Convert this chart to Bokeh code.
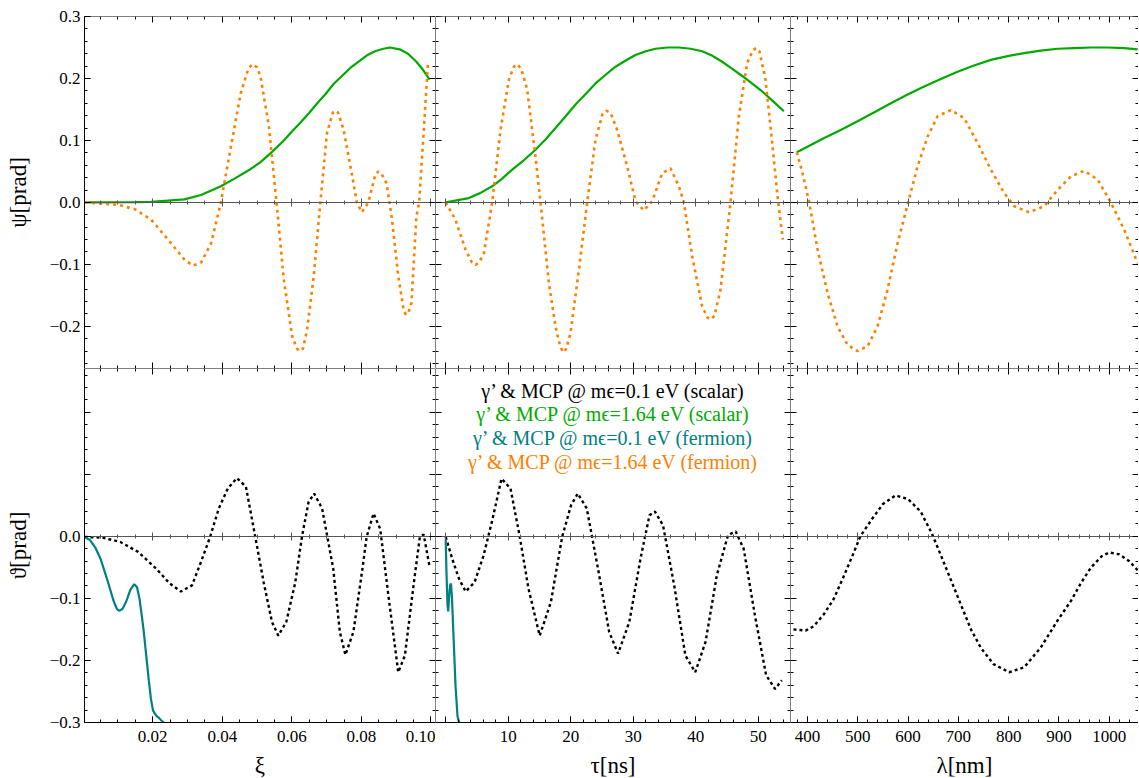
from bokeh.plotting import figure
from bokeh.layouts import gridplot
from bokeh.models import LinearAxis, FixedTicker, Range1d, Label
from bokeh.embed import file_html
from bokeh.resources import INLINE

# ---------------- data ----------------
# top row: psi [prad]
xi_g = [0.0006, 0.0149, 0.0196, 0.0291, 0.0339, 0.0396, 0.0434, 0.0482, 0.0510, 0.0544,
        0.0577, 0.0601, 0.0625, 0.0649, 0.0673, 0.0697, 0.0720, 0.0744, 0.0768, 0.0792,
        0.0815, 0.0839, 0.0863, 0.0882, 0.0910, 0.0934, 0.0958, 0.0977, 0.0996]
psi_g_xi = [0.0, 0.0005, 0.001, 0.005, 0.012, 0.026, 0.038, 0.054, 0.065, 0.082,
            0.100, 0.115, 0.129, 0.144, 0.160, 0.175, 0.191, 0.204, 0.217, 0.227,
            0.237, 0.244, 0.248, 0.250, 0.247, 0.240, 0.227, 0.214, 0.198]

xi_o = [0.0006, 0.0101, 0.0149, 0.0196, 0.0244, 0.0291, 0.0315, 0.0339, 0.0368, 0.0396,
        0.0425, 0.0453, 0.0475, 0.0487, 0.0500, 0.0510, 0.0534, 0.0556, 0.0577, 0.0601,
        0.0615, 0.0623, 0.0632, 0.0644, 0.0663, 0.0682, 0.0701, 0.0718, 0.0725, 0.0733,
        0.0749, 0.0772, 0.0787, 0.0801, 0.0820, 0.0840, 0.0849, 0.0858, 0.0872, 0.0887,
        0.0906, 0.0922, 0.0928, 0.0935, 0.0944, 0.0958, 0.0966, 0.0977, 0.0991]
psi_o_xi = [0.0, -0.004, -0.011, -0.028, -0.060, -0.092, -0.102, -0.097, -0.066, 0.0,
            0.090, 0.176, 0.216, 0.223, 0.218, 0.203, 0.123, 0.0, -0.125, -0.216,
            -0.236, -0.240, -0.236, -0.205, -0.119, 0.0, 0.112, 0.145, 0.148, 0.145,
            0.117, 0.047, 0.0, -0.016, 0.0, 0.045, 0.050, 0.046, 0.031, -0.023,
            -0.119, -0.175, -0.181, -0.178, -0.162, -0.023, 0.0, 0.096, 0.222]

tau_g = [0.0, 3.70, 5.50, 7.44, 9.00, 10.64, 12.50, 14.37, 16.00, 17.57,
         19.20, 20.77, 22.40, 23.97, 25.60, 27.17, 28.80, 30.37, 32.00, 33.57,
         35.50, 37.31, 39.20, 41.04, 42.60, 44.24, 45.80, 47.44, 49.00, 50.64,
         52.40, 54.11]
psi_g_tau = [0.0, 0.007, 0.015, 0.026, 0.038, 0.053, 0.068, 0.085, 0.102, 0.120,
             0.139, 0.158, 0.175, 0.192, 0.206, 0.219, 0.229, 0.238, 0.244, 0.248,
             0.250, 0.250, 0.248, 0.244, 0.237, 0.227, 0.216, 0.204, 0.192, 0.179,
             0.163, 0.147]

tau_o = [0.0, 1.57, 3.17, 4.20, 4.77, 5.40, 6.11, 7.44, 8.77, 10.11,
         10.90, 11.44, 12.10, 13.04, 14.37, 15.17, 16.51, 17.57, 18.30, 18.80,
         19.30, 19.97, 21.31, 22.64, 23.97, 25.10, 25.73, 26.40, 27.44, 29.04,
         30.37, 31.71, 33.04, 34.64, 35.97, 37.31, 38.11, 39.44, 41.04, 41.90,
         42.43, 43.00, 43.97, 45.57, 46.91, 48.24, 49.20, 49.68, 50.20, 51.17,
         52.24, 53.20, 53.95]
psi_o_tau = [0.0, -0.028, -0.076, -0.097, -0.101, -0.096, -0.082, 0.0, 0.117, 0.198,
             0.219, 0.223, 0.215, 0.182, 0.074, 0.0, -0.130, -0.200, -0.232, -0.242,
             -0.236, -0.211, -0.109, 0.0, 0.101, 0.143, 0.148, 0.144, 0.117, 0.058,
             0.002, -0.013, 0.002, 0.047, 0.055, 0.026, 0.0, -0.087, -0.168, -0.186,
             -0.189, -0.183, -0.141, 0.0, 0.139, 0.225, 0.246, 0.249, 0.244, 0.198,
             0.096, 0.0, -0.060]

lam_g = [378.7, 433.2, 466.0, 499.5, 532.0, 565.7, 599.0, 632.0, 665.0, 698.4,
         731.0, 764.6, 798.0, 830.9, 864.0, 897.3, 930.0, 963.6, 997.0, 1029.8, 1056.5]
psi_g_lam = [0.081, 0.104, 0.117, 0.131, 0.145, 0.160, 0.174, 0.187, 0.199, 0.211,
             0.221, 0.230, 0.236, 0.241, 0.245, 0.248, 0.249, 0.250, 0.250, 0.249, 0.247]

lam_o = [378.7, 390.1, 403.3, 419.9, 439.8, 459.7, 479.6, 499.5, 519.4, 539.3,
         559.1, 579.0, 600.1, 618.8, 638.7, 658.6, 685.1, 711.5, 738.2, 764.6,
         791.1, 811.0, 840.8, 870.7, 897.3, 923.8, 950.2, 976.9, 1003.3, 1029.8, 1056.5]
psi_o_lam = [0.081, 0.047, 0.0, -0.076, -0.146, -0.200, -0.230, -0.240, -0.232, -0.200,
             -0.141, -0.066, 0.0, 0.058, 0.106, 0.139, 0.149, 0.136, 0.096, 0.053,
             0.015, -0.006, -0.016, -0.006, 0.020, 0.042, 0.051, 0.037, 0.0, -0.044, -0.098]

# bottom row: theta [prad]
xi_k = [0.0004, 0.0055, 0.0107, 0.0158, 0.0210, 0.0249, 0.0281, 0.0313, 0.0339, 0.0365,
        0.0390, 0.0416, 0.0442, 0.0468, 0.0494, 0.0519, 0.0543, 0.0561, 0.0584, 0.0610,
        0.0629, 0.0648, 0.0664, 0.0687, 0.0719, 0.0738, 0.0754, 0.0777, 0.0803, 0.0815,
        0.0835, 0.0854, 0.0880, 0.0906, 0.0925, 0.0951, 0.0968, 0.0979, 0.0996]
theta_k_xi = [-0.001, -0.002, -0.009, -0.025, -0.052, -0.076, -0.089, -0.079, -0.041, -0.001,
              0.045, 0.077, 0.094, 0.080, 0.002, -0.074, -0.138, -0.160, -0.138, -0.074,
              -0.001, 0.055, 0.069, 0.045, -0.052, -0.154, -0.191, -0.154, -0.052, -0.001,
              0.037, 0.012, -0.106, -0.219, -0.192, -0.074, -0.001, 0.003, -0.049]

xi_t = [0.0004, 0.0020, 0.0035, 0.0050, 0.0070, 0.0087, 0.0097, 0.0104, 0.0113, 0.0124,
        0.0136, 0.0147, 0.0155, 0.0162, 0.0168, 0.0174, 0.0182, 0.0189, 0.0195, 0.0201,
        0.0210, 0.0217, 0.0225, 0.0232]
theta_t_xi = [-0.001, -0.006, -0.018, -0.036, -0.071, -0.103, -0.117, -0.120, -0.117, -0.105,
              -0.086, -0.077, -0.082, -0.100, -0.125, -0.152, -0.195, -0.233, -0.262, -0.281,
              -0.289, -0.292, -0.297, -0.300]

tau_k = [0.0, 1.04, 2.11, 3.20, 4.62, 6.06, 7.50, 8.93, 10.37, 11.81,
         13.24, 15.04, 16.83, 18.63, 20.05, 21.14, 22.57, 24.37, 26.16, 27.58,
         29.38, 31.17, 32.61, 33.47, 34.77, 36.56, 38.35, 39.93, 41.58, 43.38,
         45.17, 46.39, 47.68, 49.47, 51.27, 52.70, 53.78]
theta_k_tau = [-0.001, -0.036, -0.068, -0.089, -0.074, -0.031, 0.028, 0.093, 0.077, 0.002,
               -0.084, -0.160, -0.106, -0.001, 0.050, 0.069, 0.045, -0.052, -0.154, -0.189,
               -0.138, -0.036, 0.034, 0.040, 0.018, -0.079, -0.192, -0.219, -0.170, -0.063,
               0.002, 0.008, -0.020, -0.127, -0.224, -0.246, -0.232]

tau_t = [0.0, 0.13, 0.29, 0.40, 0.53, 0.69, 0.85, 1.01, 1.25, 1.57, 1.89, 2.16]
theta_t_tau = [-0.005, -0.060, -0.110, -0.121, -0.100, -0.080, -0.076, -0.100, -0.160, -0.240,
               -0.290, -0.300]

lam_k = [372, 385, 396, 412, 432, 452, 470, 490, 505, 530, 550, 575, 600, 625, 647, 665,
         685, 705, 725, 745, 770, 801, 831, 864, 897, 924, 944, 964, 985, 1000, 1020, 1040, 1057]
theta_k_lam = [-0.150, -0.151, -0.152, -0.145, -0.126, -0.101, -0.068, -0.030, 0.000, 0.030,
               0.052, 0.066, 0.060, 0.040, 0.005, -0.030, -0.070, -0.110, -0.150, -0.180,
               -0.206, -0.219, -0.211, -0.179, -0.136, -0.104, -0.075, -0.050, -0.032, -0.026,
               -0.029, -0.040, -0.055]

legend_texts = ["γ’ & MCP @ mϵ=0.1 eV (scalar)",
                "γ’ & MCP @ mϵ=1.64 eV (scalar)",
                "γ’ & MCP @ mϵ=0.1 eV (fermion)",
                "γ’ & MCP @ mϵ=1.64 eV (fermion)"]

# tick labels
xi_ticks = [0.02, 0.04, 0.06, 0.08, 0.1]
xi_labels = ["0.02", "0.04", "0.06", "0.08", "0.10"]
tau_ticks = [10, 20, 30, 40, 50]
tau_labels = ["10", "20", "30", "40", "50"]
lam_ticks = [400, 500, 600, 700, 800, 900, 1000]
lam_labels = ["400", "500", "600", "700", "800", "900", "1000"]
psi_ticks = [-0.2, -0.1, 0.0, 0.1, 0.2, 0.3]
psi_labels = ["\u22120.2", "\u22120.1", "0.0", "0.1", "0.2", "0.3"]
theta_ticks = [-0.3, -0.2, -0.1, 0.0]
theta_labels = ["\u22120.3", "\u22120.2", "\u22120.1", "0.0"]

# ---------------- styling ----------------
GREEN = "#00aa00"
ORANGE = "#ff8000"
TEAL = "#008080"
BLACK = "#000000"
FONT = "Liberation Serif"

# tick mark positions (major-length and minor-length)
XMAJ = {"xi": [0.02, 0.04, 0.06, 0.08, 0.1], "tau": [0, 10, 20, 30, 40, 50],
        "lam": [400, 500, 600, 700, 800, 900, 1000]}
XMIN = {"xi": [round(0.005 * i, 4) for i in range(0, 21)],
        "tau": list(range(0, 56, 2)),
        "lam": list(range(380, 1060, 20))}
YMAJ_TOP = [-0.2, -0.1, 0.0, 0.1, 0.2, 0.3]
YMIN_TOP = [round(-0.26 + 0.02 * i, 3) for i in range(0, 29)]
YMAJ_BOT = [-0.3, -0.2, -0.1, 0.0, 0.1, 0.2]
YMIN_BOT = [round(-0.3 + 0.02 * i, 3) for i in range(0, 29)]

XR = {"xi": (0.0004, 0.1013), "tau": (-1.63, 55.17), "lam": (366.1, 1058.3)}
FW = {"xi": 351, "tau": 355, "lam": 348}
YR_TOP = (-0.268, 0.300)
YR_BOT = (-0.300, 0.2705)


def tick_axis(p, side, loc, positions, t_in, t_out, color, draw_line):
    """An axis drawn at a fixed location carrying only tick marks (no labels)."""
    ax = LinearAxis(ticker=FixedTicker(ticks=[], minor_ticks=positions), fixed_location=loc)
    ax.minor_tick_in = t_in
    ax.minor_tick_out = t_out
    ax.minor_tick_line_color = color
    ax.minor_tick_line_width = 1
    ax.major_tick_line_color = None
    ax.axis_line_color = color if draw_line else None
    ax.axis_line_width = 1
    ax.major_label_standoff = 0
    p.add_layout(ax, side)


def label_axis(p, side, ticks, labels, title, label_standoff, title_standoff):
    ax = LinearAxis(ticker=FixedTicker(ticks=ticks, minor_ticks=[]))
    ax.axis_line_color = "black"
    ax.major_tick_line_color = "black"
    ax.major_tick_in = 6
    ax.major_tick_out = 0
    ax.minor_tick_line_color = None
    ax.major_label_overrides = {t: l for t, l in zip(ticks, labels)}
    ax.major_label_text_font = FONT
    ax.major_label_text_font_size = "17px"
    ax.major_label_text_color = "black"
    ax.major_label_standoff = label_standoff
    ax.axis_label = title
    ax.axis_label_text_font = FONT
    ax.axis_label_text_font_size = "23px"
    ax.axis_label_text_font_style = "normal"
    ax.axis_label_text_color = "black"
    ax.axis_label_standoff = title_standoff
    p.add_layout(ax, side)


def make_panel(xkey, top_row, left_col):
    yr = YR_TOP if top_row else YR_BOT
    xr = XR[xkey]
    p = figure(x_range=Range1d(*xr), y_range=Range1d(*yr),
               frame_width=FW[xkey], frame_height=352 if top_row else 354,
               output_backend="svg", toolbar_location=None,
               x_axis_location=None, y_axis_location=None,
               min_border_left=84 if left_col else 0,
               min_border_top=16 if top_row else 0,
               min_border_bottom=0 if top_row else 55,
               min_border_right=0)
    p.outline_line_color = None
    p.xgrid.visible = False
    p.ygrid.visible = False

    ymaj = YMAJ_TOP if top_row else YMAJ_BOT
    ymin = YMIN_TOP if top_row else YMIN_BOT

    # frame edges: tick marks pointing inward
    for side, loc, maj, mnr in (("below", yr[0], XMAJ[xkey], XMIN[xkey]),
                                ("above", yr[1], XMAJ[xkey], XMIN[xkey]),
                                ("left", xr[0], ymaj, ymin),
                                ("right", xr[1], ymaj, ymin)):
        tick_axis(p, side, loc, mnr, 3, 0, "black", True)
        tick_axis(p, side, loc, maj, 6, 0, "black", False)

    # zero axis through the origin (Mathematica style)
    tick_axis(p, "below", 0.0, XMIN[xkey], 2, 2, "#555555", True)
    tick_axis(p, "below", 0.0, XMAJ[xkey], 4, 4, "#555555", False)

    # labelled axes
    if not top_row:
        xt = {"xi": (xi_ticks, xi_labels, "ξ"), "tau": (tau_ticks, tau_labels, "τ[ns]"),
              "lam": (lam_ticks, lam_labels, "λ[nm]")}[xkey]
        label_axis(p, "below", xt[0], xt[1], xt[2], 8, 8)
    if left_col:
        if top_row:
            label_axis(p, "left", psi_ticks, psi_labels, "ψ[prad]", 4, 16)
        else:
            label_axis(p, "left", theta_ticks, theta_labels, "ϑ[prad]", 4, 16)
    return p


tl = make_panel("xi", True, True)
tm = make_panel("tau", True, False)
tr = make_panel("lam", True, False)
bl = make_panel("xi", False, True)
bm = make_panel("tau", False, False)
br = make_panel("lam", False, False)

# top row curves
tl.line(xi_g, psi_g_xi, line_color=GREEN, line_width=2.2)
tl.line(xi_o, psi_o_xi, line_color=ORANGE, line_width=2.6, line_dash="3 4")
tm.line(tau_g, psi_g_tau, line_color=GREEN, line_width=2.2)
tm.line(tau_o, psi_o_tau, line_color=ORANGE, line_width=2.6, line_dash="3 4")
tr.line(lam_g, psi_g_lam, line_color=GREEN, line_width=2.2)
tr.line(lam_o, psi_o_lam, line_color=ORANGE, line_width=2.6, line_dash="3 4")

# bottom row curves
bl.line(xi_k, theta_k_xi, line_color=BLACK, line_width=2.4, line_dash="3 3")
bl.line(xi_t, theta_t_xi, line_color=TEAL, line_width=2.2)
bm.line(tau_k, theta_k_tau, line_color=BLACK, line_width=2.4, line_dash="3 3")
bm.line(tau_t, theta_t_tau, line_color=TEAL, line_width=2.2)
br.line(lam_k, theta_k_lam, line_color=BLACK, line_width=2.4, line_dash="3 3")

# legend text block
leg_colors = [BLACK, GREEN, TEAL, ORANGE]
leg_y = [0.235, 0.197, 0.159, 0.120]
for txt, col, yy in zip(legend_texts, leg_colors, leg_y):
    bm.add_layout(Label(x=26.9, y=yy, text=txt, text_align="center", text_baseline="middle",
                        text_font=FONT, text_font_size="20px", text_color=col))

grid = gridplot([[tl, tm, tr], [bl, bm, br]], toolbar_location=None)

open("out.html", "w").write(file_html(grid, INLINE))
